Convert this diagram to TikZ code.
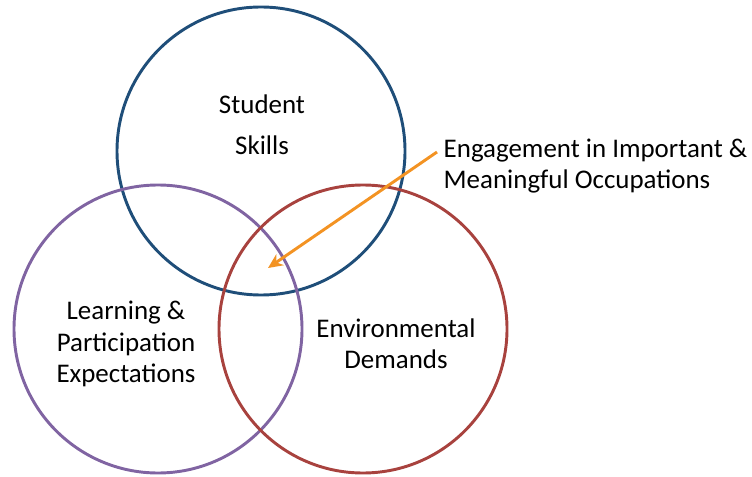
\documentclass[tikz,border=0pt]{standalone}
\usepackage{fontspec}
\setmainfont{Carlito}
\usetikzlibrary{arrows.meta}
\definecolor{skillblue}{HTML}{1F4E79}
\definecolor{learnpurple}{HTML}{8064A2}
\definecolor{envred}{HTML}{A8423E}
\definecolor{engorange}{HTML}{F39323}
\tikzset{
  ring/.style={line width=2.2pt},
  lbl/.style={align=center, font=\fontsize{20.2}{23.5}\selectfont},
}
\begin{document}
\begin{tikzpicture}[x=0.75pt,y=-0.75pt]
    \useasboundingbox (0,0) rectangle (752,477);
    \draw[ring,skillblue] (261,151) circle (144);
    \draw[ring,learnpurple] (158,329) circle (144);
    \draw[ring,envred] (363,329) circle (144);
    \node[lbl] (student) at (262,104) {Student};
    \node[lbl] (skills) at (262,145) {Skills};
    \node[lbl] (learning) at (126,344) {Learning \&\\Participation\\Expectations};
    \node[lbl] (environ) at (396,344) {Environmental\\Demands};
    \node[lbl,align=left,anchor=west] (engage) at (439,166) {Engagement in Important \&\\Meaningful Occupations};
    \coordinate (tail) at (437,152);
    \coordinate (head) at (268,268);
    \draw[engorange,line width=2.2pt,-{Stealth[length=11pt,width=10pt]}] (tail) -- (head);
  \end{tikzpicture}
\end{document}
